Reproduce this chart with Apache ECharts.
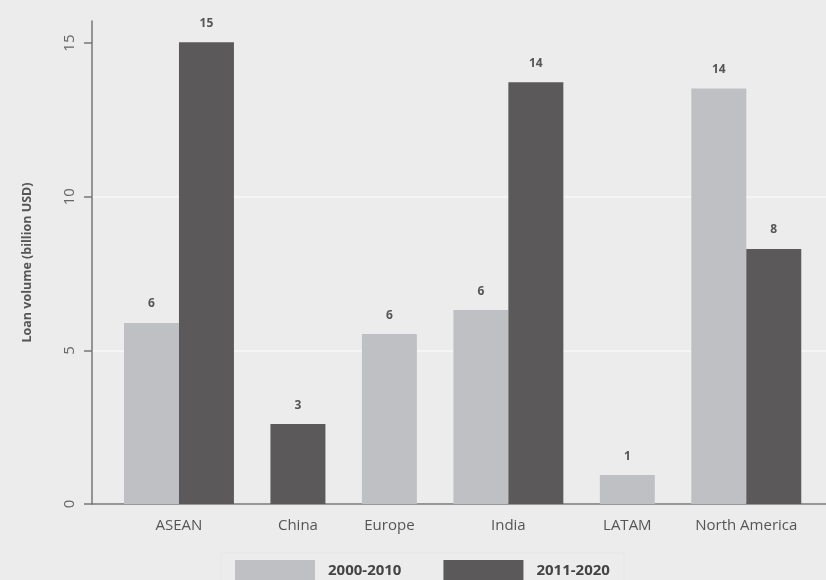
<!DOCTYPE html>
<html>
<head>
<meta charset="utf-8">
<script src="https://cdn.jsdelivr.net/npm/echarts@6/dist/echarts.min.js"></script>
<style>
html,body{margin:0;padding:0;background:#ececec;}
#chart{width:826px;height:580px;}
</style>
</head>
<body>
<div id="chart"></div>
<script>
// ---- data ----
const categories = ['ASEAN', 'China', 'Europe', 'India', 'LATAM', 'North America'];
const seriesNames = ['2000-2010', '2011-2020'];
const values2000_2010 = [5.89, null, 5.53, 6.31, 0.94, 13.52];
const values2011_2020 = [15.03, 2.60, null, 13.73, null, 8.30];
const yTicks = [0, 5, 10, 15];

// ---- layout constants (in bar-width units) ----
const PAD_L = 0.582, GAP = 0.664, PAD_R = 0.45;
const colors = ['#bfc0c3', '#5b595a'];
const FONT = '"Open Sans", "DejaVu Sans", sans-serif';

// build packed positions: each category as wide as its present bars
const allVals = [values2000_2010, values2011_2020];
const seriesData = [[], []];
const centers = [];
let cursor = PAD_L;
categories.forEach((c, i) => {
  const start = cursor;
  allVals.forEach((arr, s) => {
    if (arr[i] != null) {
      seriesData[s].push([cursor + 0.5, arr[i]]);
      cursor += 1;
    }
  });
  centers.push((start + cursor) / 2);
  if (i < categories.length - 1) cursor += GAP;
});
const xMax = cursor + PAD_R;

function makeRender(color) {
  return function (params, api) {
    const x = api.value(0), v = api.value(1);
    const p0 = api.coord([x - 0.5, v]);
    const p1 = api.coord([x + 0.5, 0]);
    return {
      type: 'group',
      children: [
        { type: 'rect', shape: { x: p0[0], y: p0[1], width: p1[0] - p0[0], height: p1[1] - p0[1] }, style: { fill: color } },
        { type: 'text', x: (p0[0] + p1[0]) / 2, y: p0[1] - 19,
          style: { text: String(Math.round(v)), align: 'center', verticalAlign: 'middle',
                   fontFamily: FONT, fontSize: 12, fontWeight: 'bold', fill: '#555' } }
      ]
    };
  };
}

const chart = echarts.init(document.getElementById('chart'), null, { renderer: 'canvas' });
chart.setOption({
  backgroundColor: '#ececec',
  animation: false,
  grid: { left: 92, right: 0, top: 21, bottom: 76, containLabel: false },
  legend: {
    data: seriesNames.map(n => ({ name: n, icon: 'rect' })),
    left: 221, top: 553,
    padding: [7, 14, 7, 14],
    itemWidth: 80, itemHeight: 22, itemGap: 42,
    backgroundColor: '#ececec', borderColor: '#e2e8e5', borderWidth: 1,
    textStyle: { fontFamily: FONT, fontSize: 15, fontWeight: 'bold', color: '#444', padding: [0, 0, 0, 8] }
  },
  xAxis: {
    type: 'value', min: 0, max: xMax,
    splitLine: { show: false },
    axisTick: { show: false },
    axisLine: { show: true, lineStyle: { color: '#777', width: 1.5 } },
    axisLabel: {
      customValues: centers,
      formatter: function (val) {
        let best = 0;
        centers.forEach((c, i) => { if (Math.abs(c - val) < Math.abs(centers[best] - val)) best = i; });
        return categories[best];
      },
      fontFamily: FONT, fontSize: 15, color: '#555', margin: 14
    }
  },
  yAxis: {
    type: 'value', min: 0, max: 15.72, interval: 5,
    name: 'Loan volume (billion USD)',
    nameLocation: 'middle', nameRotate: 90, nameGap: 58,
    nameTextStyle: { fontFamily: FONT, fontSize: 12.5, fontWeight: 'bold', color: '#555' },
    axisLine: { show: true, lineStyle: { color: '#777', width: 1.5 } },
    axisTick: { show: true, length: 8, customValues: yTicks, lineStyle: { color: '#777', width: 1.5 } },
    axisLabel: { customValues: yTicks, rotate: 90, margin: 15, fontFamily: FONT, fontSize: 15, color: '#666' },
    splitLine: { show: true, showMaxLine: false, lineStyle: { color: '#f8f8f8', width: 1.5 } }
  },
  series: seriesNames.map((n, s) => ({
    name: n, type: 'custom',
    itemStyle: { color: colors[s] },
    renderItem: makeRender(colors[s]),
    encode: { x: 0, y: 1 },
    data: seriesData[s]
  }))
});
</script>
</body>
</html>
